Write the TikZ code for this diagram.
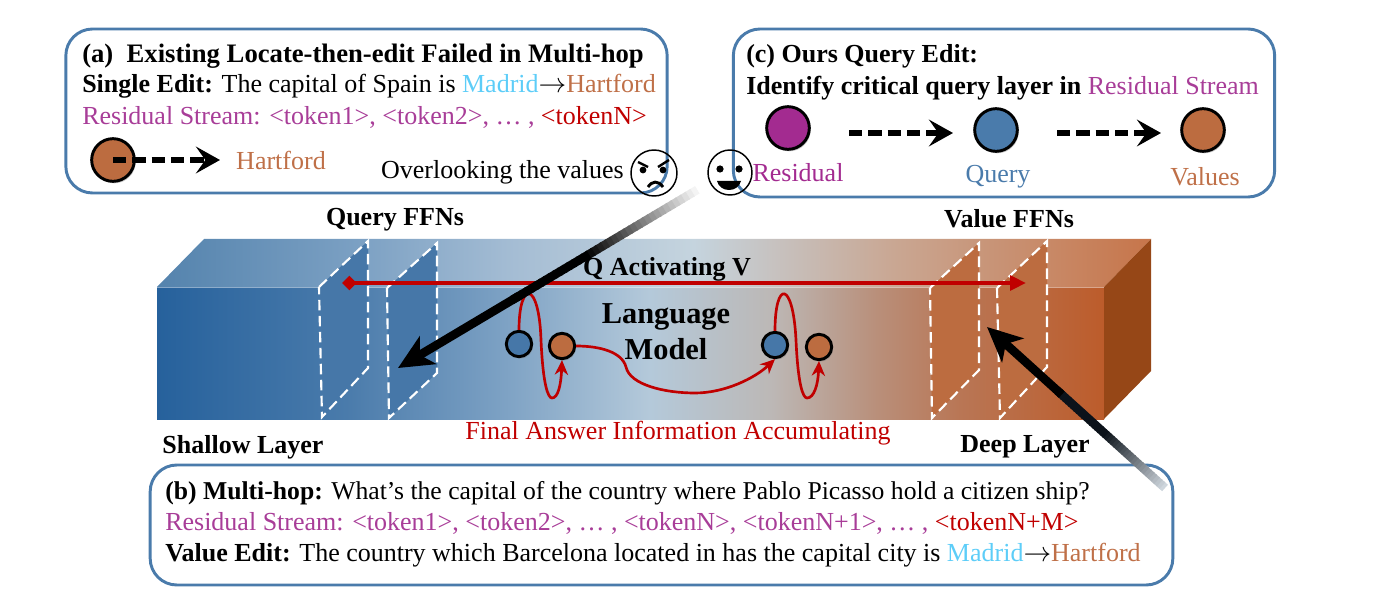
\documentclass[tikz,border=0pt]{standalone}
\usepackage{fontspec}
\setmainfont{Liberation Serif}
\usetikzlibrary{arrows.meta,calc,shadows}
\definecolor{boxblue}{HTML}{4A7BAB}
\definecolor{qblue}{HTML}{4677A8}
\definecolor{vbrown}{HTML}{BC6C40}
\definecolor{rpurple}{HTML}{A32B90}
\definecolor{txpurple}{HTML}{A83D98}
\definecolor{madrid}{HTML}{5DCDF8}
\definecolor{hart}{HTML}{BF7048}
\definecolor{darkred}{HTML}{C00000}
\definecolor{sidebrown}{HTML}{964717}
\definecolor{front0}{HTML}{26619C}\definecolor{front1}{HTML}{4A7BAB}
\definecolor{front2}{HTML}{7BA0C3}\definecolor{front3}{HTML}{B4C9DA}
\definecolor{front4}{HTML}{BCB8B6}\definecolor{front5}{HTML}{B98F7A}
\definecolor{front6}{HTML}{B97655}\definecolor{front7}{HTML}{BC5C2B}
\definecolor{top0}{HTML}{5483AD}\definecolor{top1}{HTML}{7BA0C3}
\definecolor{top2}{HTML}{A5BDD4}\definecolor{top3}{HTML}{C5D4DE}
\definecolor{top4}{HTML}{C9A793}\definecolor{top5}{HTML}{C7754A}
\pgfdeclarehorizontalshading{frontshade}{100bp}{color(0bp)=(front0);
  color(25bp)=(front0);color(35bp)=(front1);color(43bp)=(front2);color(51bp)=(front3);
  color(57.4bp)=(front4);color(63bp)=(front5);color(67.4bp)=(front6);color(75bp)=(front7);color(100bp)=(front7)}
\pgfdeclarehorizontalshading{topshade}{100bp}{color(0bp)=(top0);
  color(25bp)=(top0);color(35bp)=(top1);color(43bp)=(top2);color(52bp)=(top3);
  color(62bp)=(top4);color(75bp)=(top5);color(100bp)=(top5)}
\tikzset{
  txt/.style={inner sep=0pt,font=\fontsize{19.5pt}{22pt}\selectfont},
  bld/.style={txt,font=\fontsize{19.5pt}{22pt}\selectfont\bfseries},
  panel/.style={draw=boxblue,line width=2.2pt,rounded corners=20pt},
  ball/.style={circle,draw=black,line width=2.2pt,minimum size=#1,inner sep=0pt,
    drop shadow={shadow xshift=1pt,shadow yshift=-1.5pt,opacity=.4}},
  ffn/.style={draw=white,line width=1.6pt,dash pattern=on 8pt off 4pt},
  dasharrow/.style={line width=4pt,dash pattern=on 10pt off 4.5pt,-{Stealth[length=18pt,width=20pt,inset=7pt]}},
  redloop/.style={draw=darkred,line width=2pt,-{Stealth[length=11pt,width=10pt]}},
  face/.style={draw=black,line width=1.1pt}
}
\begin{document}
\begin{tikzpicture}[x=0.75pt,y=-0.75pt]
\useasboundingbox (0,0) rectangle (1375,613);
% block
\shade[shading=topshade] (157,287)--(204,239)--(1151,239)--(1104,287)--cycle;
\shade[shading=frontshade] (157,287) rectangle (1104,419);
\fill[sidebrown] (1104,287)--(1151,239)--(1151,371)--(1104,419)--cycle;
\draw[white,opacity=.45,line width=.6pt] (157,287)--(1104,287);
% layers
\path[fill=qblue] (319,287)--(368,241)--(368,368)--(322,417)--cycle;
\draw[ffn] (319,287)--(368,241)--(368,368)--(322,417)--cycle;
\path[fill=qblue] (387,288)--(437,243)--(437,373)--(389,418)--cycle;
\draw[ffn] (387,288)--(437,243)--(437,373)--(389,418)--cycle;
\path[fill=vbrown] (930,288)--(979,243)--(979,370)--(932,418)--cycle;
\draw[ffn] (930,288)--(979,243)--(979,370)--(932,418)--cycle;
\path[fill=vbrown] (997,288)--(1047,241)--(1047,367)--(1000,418)--cycle;
\draw[ffn] (997,288)--(1047,241)--(1047,367)--(1000,418)--cycle;
% labels on block
\node[bld] (lblQFFN) at (395,220) {Query FFNs};
\node[bld] (lblVFFN) at (1009,219) {Value FFNs};
\node[bld] (lblShallow) at (243,447) {Shallow Layer};
\node[bld] (lblDeep) at (1025,447) {Deep Layer};
\node[bld] (lblQV) at (667,269) {Q Activating V};
\node[txt,darkred] (lblFinal) at (678,433) {Final Answer Information Accumulating};
\node[inner sep=0pt,align=center,font=\fontsize{22.8pt}{27pt}\selectfont\bfseries] (lblModel) at (666,332) {Language\\Model};
% activating arrow
\coordinate (qvStart) at (342,283);
\coordinate (qvEnd) at (1026,283);
\draw[darkred,line width=3pt,{Diamond[length=11pt,width=11pt]}-{Triangle[length=12pt,width=11pt]}] (qvStart)--(qvEnd);
% inner nodes
\node[ball=19pt,fill=qblue] (qOne) at (519,344) {};
\node[ball=19pt,fill=vbrown] (vOne) at (562,346) {};
\node[ball=19pt,fill=qblue] (qTwo) at (775,345) {};
\node[ball=19pt,fill=vbrown] (vTwo) at (819,347) {};
\draw[redloop] (qOne.north) .. controls (519,280) and (539,280) .. (541,340) .. controls (543,385) and (548,398) .. (552,398) .. controls (558,398) and (561,385) .. (vOne.south);
\draw[redloop] (qTwo.north) .. controls (775,280) and (793,280) .. (796,340) .. controls (798,385) and (803,398) .. (807,398) .. controls (814,398) and (818,385) .. (vTwo.south);
\draw[redloop] (vOne.east) .. controls (600,346) and (622,352) .. (626,367) .. controls (630,385) and (665,393) .. (695,393) .. controls (725,393) and (755,378) .. (qTwo.south);
% panel a
\node[panel,minimum width=451pt,minimum height=123pt] (panelA) at (366.5,111) {};
\node[txt,anchor=base west,font=\fontsize{20pt}{22pt}\selectfont] (aOne) at (82,63) {\textbf{(a) \ Existing Locate-then-edit Failed in Multi-hop}};
\node[txt,anchor=base west] (aTwo) at (82,93) {\textbf{Single Edit:} The capital of Spain is \textcolor{madrid}{Madrid}$\rightarrow$\textcolor{hart}{Hartford}};
\node[txt,anchor=base west,txpurple] (aThree) at (82,125) {Residual Stream: <token1>, <token2>, … , \textcolor{darkred}{<tokenN>}};
\node[ball=32pt,fill=vbrown] (aBall) at (113,160) {};
\node[txt,hart] (aHart) at (281,160) {Hartford};
\coordinate (aTip) at (220,160);
\draw[dasharrow] (aBall.center)--(aTip);
\node[txt,anchor=east] (aOver) at (624,172) {Overlooking the values};
% panel c
\node[panel,minimum width=406pt,minimum height=126pt] (panelC) at (1004,113) {};
\node[bld,anchor=base west] (cOne) at (746,63) {(c) Ours Query Edit:};
\node[txt,anchor=base west] (cTwo) at (746,95) {\textbf{Identify critical query layer in} \textcolor{txpurple}{Residual Stream}};
\node[ball=32pt,fill=rpurple] (cR) at (788,128) {};
\node[ball=32pt,fill=boxblue] (cQ) at (996,130) {};
\node[ball=32pt,fill=vbrown] (cV) at (1203,130) {};
\coordinate (cRout) at (849,133);
\coordinate (cQin) at (953,133);
\coordinate (cQout) at (1057,133);
\coordinate (cVin) at (1161,133);
\draw[dasharrow] (cRout)--(cQin);
\draw[dasharrow] (cQout)--(cVin);
\node[txt,rpurple] (cRtxt) at (798,173) {Residual};
\node[txt,boxblue] (cQtxt) at (998,177) {Query};
\node[txt,hart] (cVtxt) at (1205,177) {Values};
% panel b
\node[panel,minimum width=767pt,minimum height=90pt] (panelB) at (661.5,525) {};
\node[txt,anchor=base west,font=\fontsize{19.25pt}{22pt}\selectfont] (bOne) at (165,499) {\textbf{(b) Multi-hop:} What’s the capital of the country where Pablo Picasso hold a citizen ship?};
\node[txt,anchor=base west,txpurple] (bTwo) at (165,530) {Residual Stream: <token1>, <token2>, … , <tokenN>, <tokenN+1>, … , \textcolor{darkred}{<tokenN+M>}};
\node[txt,anchor=base west] (bThree) at (165,561) {\textbf{Value Edit:} The country which Barcelona located in has the capital city is \textcolor{madrid}{Madrid}$\rightarrow$\textcolor{hart}{Hartford}};
% faces
\draw[face] (654,173) ellipse (23 and 23);
\fill (643,170) circle (3.4);
\fill (663,170) circle (3.4);
\draw[line width=1.8pt] (638,162)--(648,167) (669,160)--(658,167);
\draw[line width=2.2pt] (648,187) .. controls (652,181) and (658,180) .. (663,187);
\draw[face] (730,172.5) ellipse (22 and 22.5);
\fill (720,169) circle (3.6);
\fill (739,169) circle (3.6);
\fill (717,181)--(741,181) .. controls (738,193) and (720,193) .. (717,181)--cycle;
% big gradient arrows
\coordinate (fadeQ) at (702,187);
\coordinate (tipQ) at (398,368);
\coordinate (fadeV) at (1165,488);
\coordinate (tipV) at (987,327);
\foreach \t in {0,...,39}{
  \pgfmathsetmacro{\tb}{\t/40}
  \pgfmathsetmacro{\te}{(\t+1.3)/40}
  \pgfmathsetmacro{\sh}{min(100,100*\tb/0.6)}
  \draw[line width=6.5pt,color=black!\sh!white] ($(fadeQ)!\tb*0.62!(tipQ)$)--($(fadeQ)!\te*0.62!(tipQ)$);
  \pgfmathsetmacro{\si}{min(100,10+90*\tb/0.55)}
  \draw[line width=6.5pt,color=black!\si!white!85!boxblue] ($(fadeV)!\tb*0.6!(tipV)$)--($(fadeV)!\te*0.6!(tipV)$);
}
\draw[line width=6.5pt,black,-{Stealth[length=26pt,width=24pt,inset=7pt]}] ($(fadeQ)!0.6!(tipQ)$)--(tipQ);
\draw[line width=6.5pt,black,-{Stealth[length=26pt,width=24pt,inset=7pt]}] ($(fadeV)!0.58!(tipV)$)--(tipV);
\end{tikzpicture}
\end{document}
